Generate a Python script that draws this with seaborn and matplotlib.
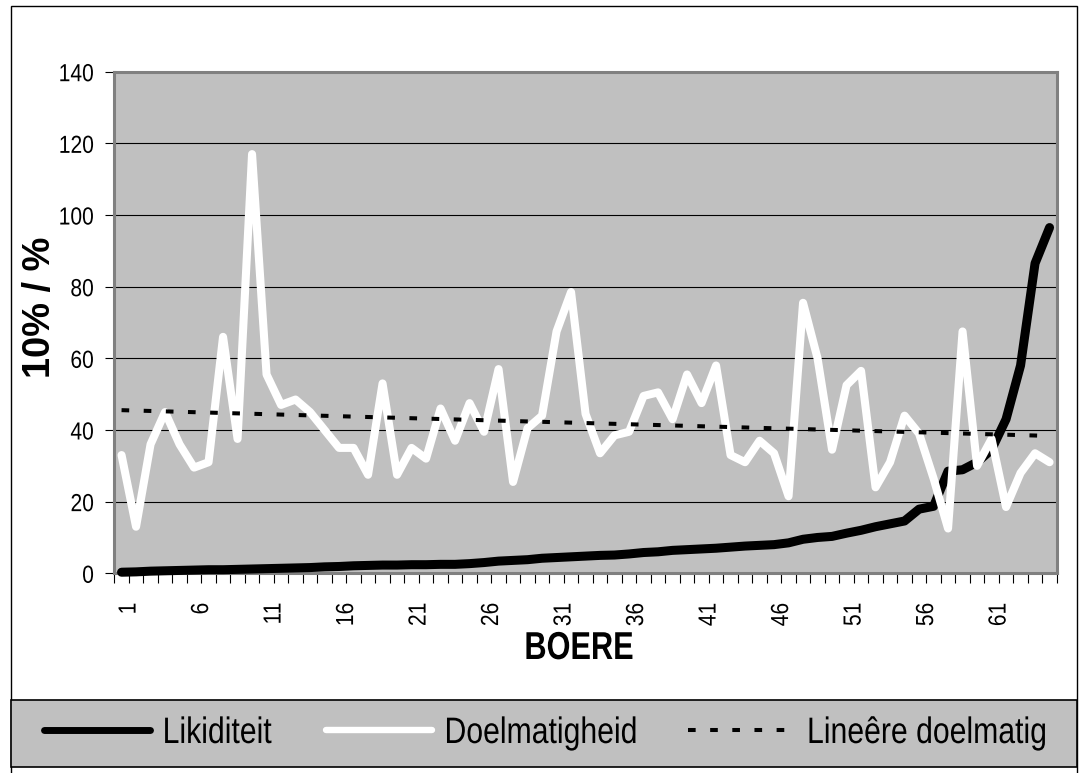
import numpy as np
import pandas as pd
import matplotlib
matplotlib.use("Agg")
import matplotlib.pyplot as plt
from matplotlib.patches import Rectangle
from matplotlib.patheffects import AbstractPathEffect
from matplotlib.transforms import Affine2D, ScaledTranslation
import seaborn as sns

# Farms (boere) numbered 1..65
boere = list(range(1, 66))

likiditeit = [0.3, 0.4, 0.6, 0.7, 0.8, 0.9, 1.0, 1.0, 1.1, 1.2,
              1.3, 1.4, 1.5, 1.6, 1.8, 1.9, 2.1, 2.2, 2.3, 2.3,
              2.4, 2.4, 2.5, 2.5, 2.7, 3.0, 3.4, 3.6, 3.8, 4.2,
              4.4, 4.6, 4.8, 5.0, 5.1, 5.4, 5.8, 6.0, 6.4, 6.6,
              6.8, 7.0, 7.3, 7.6, 7.8, 8.0, 8.5, 9.5, 10.0, 10.3,
              11.2, 12.0, 13.0, 13.8, 14.6, 17.9, 18.7, 28.5, 28.9, 31.0,
              34.5, 43.0, 58.0, 86.5, 96.5]

doelmatigheid = [33, 13, 36, 45, 36, 29.5, 31, 66, 37.5, 117,
                 55.5, 47, 48.5, 45, 40, 35, 35, 27.5, 53, 27.5,
                 35, 32, 46, 37, 47.5, 39.5, 57, 25.5, 40.5, 44,
                 67.5, 78.5, 44.5, 33.5, 38.5, 39.5, 49.5, 50.5, 43, 55.5,
                 47.5, 58, 33, 31, 37, 33.5, 21.5, 75.5, 60, 34.5,
                 52.5, 56.5, 24, 31, 44, 39, 26.5, 12.5, 67.5, 30,
                 37.5, 18.5, 28, 33.5, 31]

x_tick_cats = list(range(1, 62, 5))
x_tick_labels = [str(n) for n in x_tick_cats]
y_ticks = [0, 20, 40, 60, 80, 100, 120, 140]

series_names = ["Likiditeit", "Doelmatigheid", "Lineêre doelmatig"]


class Narrow(AbstractPathEffect):
    """Squeeze a text line along its own direction, keeping one point fixed
    (anchor 0 = start of the line, 0.5 = middle, 1 = end)."""

    def __init__(self, sx=0.82, anchor=0.0):
        super().__init__()
        self.sx = sx
        self.anchor = anchor

    def draw_path(self, renderer, gc, tpath, affine, rgbFace=None):
        ext = tpath.get_extents()
        x0 = ext.x0 + self.anchor * ext.width
        squeeze = Affine2D().translate(-x0, 0).scale(self.sx, 1).translate(x0, 0)
        renderer.draw_path(gc, tpath, squeeze + affine, rgbFace)


sns.set_style("white")
plt.rcParams["font.family"] = ["Liberation Sans", "DejaVu Sans"]
plt.rcParams["text.color"] = "black"
plt.rcParams["axes.labelcolor"] = "black"
plt.rcParams["xtick.color"] = "black"
plt.rcParams["ytick.color"] = "black"

W, H = 1080, 773
DPI = 100
fig = plt.figure(figsize=(W / DPI, H / DPI), dpi=DPI)
fig.patch.set_facecolor("white")

ax_l, ax_r, ax_t, ax_b = 114.3, 1056.8, 71.7, 573.3
ax = fig.add_axes([ax_l / W, (H - ax_b) / H, (ax_r - ax_l) / W, (ax_b - ax_t) / H])
ax.set_facecolor("#C0C0C0")

df = pd.DataFrame({"boer": boere,
                   "Likiditeit": likiditeit,
                   "Doelmatigheid": doelmatigheid})
# linear trend of Doelmatigheid
slope, intercept = np.polyfit(df["boer"], df["Doelmatigheid"], 1)
df["trend"] = intercept + slope * df["boer"]

sns.lineplot(data=df, x="boer", y="Likiditeit", ax=ax, color="black",
             linewidth=6.5, solid_capstyle="round", solid_joinstyle="round",
             label=series_names[0], clip_on=False, zorder=3)
sns.lineplot(data=df, x="boer", y="Doelmatigheid", ax=ax, color="white",
             linewidth=5.8, solid_capstyle="round", solid_joinstyle="round",
             label=series_names[1], zorder=4)
sns.lineplot(data=df, x="boer", y="trend", ax=ax, color="black",
             linewidth=2.9, label=series_names[2], zorder=5)
trend_line = ax.get_lines()[-1]
trend_line.set_linestyle((0, (1.9, 3.6)))
trend_line.set_dash_capstyle("butt")

ax.set_xlim(0.5, 65.5)
ax.set_ylim(0, 140)

# grid
ax.set_yticks(y_ticks)
ax.yaxis.grid(True, color="black", linewidth=0.8)
ax.xaxis.grid(False)
ax.set_axisbelow(True)

# plot-area border
for s in ax.spines.values():
    s.set_color("#808080")
    s.set_linewidth(2.2)

ax.tick_params(axis="y", which="major", left=True, length=6.5, width=0.8,
               color="black", pad=8, labelsize=17.8, direction="out")

# x axis: marks at category boundaries, labels every 5th farm
ax.set_xticks(x_tick_cats)
ax.set_xticklabels(x_tick_labels, rotation=90)
ax.set_xticks(np.arange(0.5, 66, 1.0), minor=True)
ax.tick_params(axis="x", which="major", bottom=True, length=0, pad=21,
               labelsize=17.8)
ax.tick_params(axis="x", which="minor", bottom=True, length=7.2, width=0.8,
               color="black", direction="out")
shift = ScaledTranslation(0.07, 0, fig.dpi_scale_trans)
for lab in ax.get_xticklabels():
    lab.set_transform(lab.get_transform() + shift)
    lab.set_path_effects([Narrow(0.85, 1.0)])
for lab in ax.get_yticklabels():
    lab.set_path_effects([Narrow(0.85, 1.0)])

ax.set_xlabel("BOERE", fontsize=28, fontweight="bold")
ax.xaxis.set_label_coords((579 - ax_l) / (ax_r - ax_l), (ax_b - 649) / (ax_b - ax_t))
ax.xaxis.label.set_va("center")
ax.xaxis.label.set_path_effects([Narrow(0.79, 0.5)])

ax.set_ylabel("10% / %", fontsize=27.4, fontweight="bold")
ax.yaxis.set_label_coords((40 - ax_l) / (ax_r - ax_l), (ax_b - 307) / (ax_b - ax_t))
ax.yaxis.label.set_va("center")
ax.yaxis.label.set_ha("center")

# legend strip below the plot
handles, labels = ax.get_legend_handles_labels()
ax.get_legend().remove()
fig.add_artist(Rectangle((11 / W, (H - 767) / H), 1066 / W, 67 / H,
                         transform=fig.transFigure, facecolor="#C0C0C0",
                         edgecolor="black", linewidth=1.2, zorder=1))
entry_x = [43.5, 325.5, 688.0]
legend_lw = [5.0, 4.6, 2.9]
legend_sx = 0.82
legend_texts = []
for h, lab, x0, lw in zip(handles, labels, entry_x, legend_lw):
    leg = fig.legend([h], [lab], loc="center left",
                     bbox_to_anchor=(x0 / W, (H - 733.5) / H),
                     frameon=False, fontsize=26.5, handlelength=2.9,
                     handletextpad=0.33, borderaxespad=0, borderpad=0)
    leg.set_zorder(3)
    leg.get_lines()[0].set_linewidth(lw)
    legend_texts.append(leg.get_texts()[0])

# squeeze legend labels about their middle, shifted so the squeezed text
# still starts right after its key
fig.canvas.draw()
for t in legend_texts:
    w = t.get_window_extent().width
    dx = -(1 - legend_sx) * w / 2
    t.set_transform(t.get_transform()
                    + ScaledTranslation(dx / DPI, 0, fig.dpi_scale_trans))
    t.set_path_effects([Narrow(legend_sx, 0.5)])

# outer chart frame
fig.add_artist(Rectangle((11 / W, -0.02), (1077 - 11) / W, 1 - 6 / H + 0.02,
                         transform=fig.transFigure, fill=False,
                         edgecolor="black", linewidth=1.0, zorder=0))

fig.savefig("out.png", dpi=DPI)
